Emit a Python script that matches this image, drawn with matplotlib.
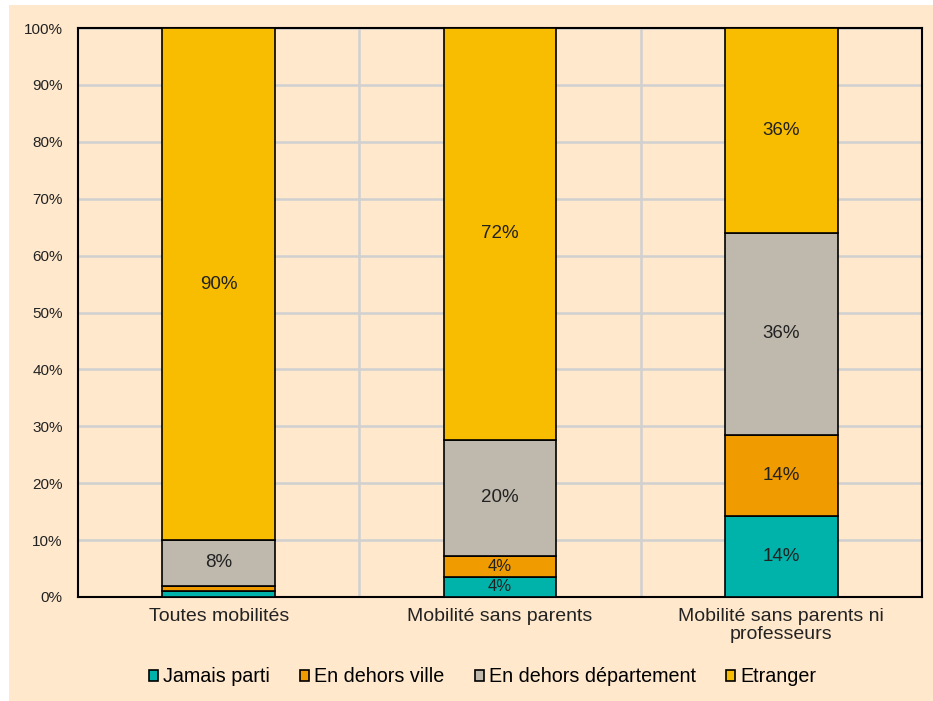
import numpy as np
import matplotlib.pyplot as plt
from matplotlib.patches import Rectangle
from matplotlib.ticker import PercentFormatter

plt.rcParams['font.family'] = ['Liberation Sans', 'DejaVu Sans']

categories = ['Toutes mobilités', 'Mobilité sans parents', 'Mobilité sans parents ni\nprofesseurs']
series = ['Jamais parti', 'En dehors ville', 'En dehors département', 'Etranger']
jamais = [1.0, 3.6, 14.3]
ville = [1.0, 3.6, 14.2]
departement = [8.0, 20.4, 35.5]
etranger = [90.0, 72.4, 36.0]
labels = [
    ['', '4%', '14%'],
    ['', '4%', '14%'],
    ['8%', '20%', '36%'],
    ['90%', '72%', '36%'],
]
colors = ['#00B3AA', '#F09B00', '#BEB8AD', '#F8BC00']
bg = '#FFE8CC'

fig = plt.figure(figsize=(9.33, 7.01), dpi=100)
fig.patch.set_facecolor('white')
fig.patches.append(Rectangle((9 / 933, 0), 1 - 9 / 933, 1 - 5 / 701,
                             transform=fig.transFigure, facecolor=bg,
                             edgecolor='none', zorder=-10))
ax = fig.add_axes([78 / 933, 1 - 597 / 701, (922 - 78) / 933, (597 - 28) / 701])
ax.set_facecolor(bg)

x = np.arange(len(categories))
bottom = np.zeros(len(categories))
for vals, col, name, labs in zip([jamais, ville, departement, etranger], colors, series, labels):
    bars = ax.bar(x, vals, 0.4, bottom=bottom, color=col, edgecolor='black',
                  linewidth=1.2, label=name, zorder=3)
    for rect, lab in zip(bars, labs):
        if lab:
            fs = 12 if rect.get_height() < 5 else 13.5
            ax.text(rect.get_x() + rect.get_width() / 2, rect.get_y() + rect.get_height() / 2,
                    lab, ha='center', va='center', fontsize=fs, color='#222222', zorder=4)
    bottom += np.array(vals)

ax.set_xlim(-0.5, 2.5)
ax.set_ylim(0, 100)
ax.set_yticks(np.arange(0, 101, 10))
ax.yaxis.set_major_formatter(PercentFormatter(decimals=0))
ax.set_xticks(x)
ax.set_xticklabels(categories, fontsize=14, color='#222222', linespacing=1.05)
ax.tick_params(axis='y', labelsize=11, colors='#222222', length=0, pad=11)
ax.tick_params(axis='x', length=0, pad=8)

ax.yaxis.grid(True, color='#D0D0D0', linewidth=1.8, zorder=0)
for xv in [0.5, 1.5]:
    ax.axvline(xv, color='#D0D0D0', linewidth=1.8, zorder=0)
for s in ax.spines.values():
    s.set_color('black')
    s.set_linewidth(1.5)

leg = fig.legend(loc='center', bbox_to_anchor=(0.517, 1 - 677 / 701), ncol=4,
                 frameon=False, fontsize=14.2, handlelength=0.45, handleheight=0.5,
                 handletextpad=0.25, columnspacing=1.55)
for h in leg.legend_handles:
    h.set_linewidth(1.2)

fig.savefig('out.png', dpi=100, facecolor=fig.get_facecolor())
